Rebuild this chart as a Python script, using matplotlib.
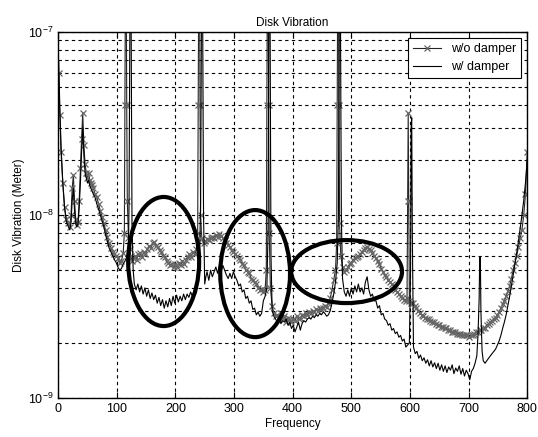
import matplotlib
matplotlib.use("Agg")
import matplotlib.pyplot as plt
from matplotlib.patches import Ellipse

plt.rcParams['font.family'] = ['Liberation Sans', 'DejaVu Sans']

# values are in units of 1e-9 meter
f_wo = [1, 3, 5, 8, 11, 14, 17, 20, 22, 24, 26, 28, 30, 32, 34, 36, 38, 40, 42, 44,
        46, 48, 50, 52, 54, 56, 58, 60, 63, 66, 69, 72, 75, 78, 81, 84, 87, 90, 93, 96,
        99, 102, 105, 108, 111, 113, 114, 115, 116, 117, 118, 120, 122, 124, 126, 128, 131, 134, 137, 140,
        143, 146, 149, 152, 155, 158, 161, 164, 167, 170, 173, 176, 179, 182, 185, 188, 191, 194, 197, 200,
        203, 206, 209, 212, 215, 218, 221, 224, 227, 230, 233, 236, 238, 239, 240, 241, 242, 243, 245, 248,
        251, 254, 257, 260, 263, 266, 269, 272, 275, 278, 281, 284, 287, 290, 293, 296, 299, 302, 305, 308,
        311, 314, 317, 320, 323, 326, 329, 332, 335, 338, 341, 344, 347, 350, 353, 355, 356, 357, 358, 359,
        360, 362, 365, 368, 371, 374, 377, 380, 383, 386, 389, 392, 395, 398, 401, 404, 407, 410, 413, 416,
        419, 422, 425, 428, 431, 434, 437, 440, 443, 446, 449, 452, 455, 458, 461, 464, 467, 470, 473, 475,
        476, 477, 478, 479, 480, 482, 485, 488, 491, 494, 497, 500, 503, 506, 509, 512, 515, 518, 521, 524,
        527, 530, 533, 536, 539, 542, 545, 548, 551, 554, 557, 560, 563, 566, 569, 572, 575, 578, 581, 584,
        587, 590, 593, 595, 596, 597, 598, 599, 602, 605, 608, 611, 614, 617, 620, 623, 626, 629, 632, 635,
        638, 641, 644, 647, 650, 653, 656, 659, 662, 665, 668, 671, 674, 677, 680, 683, 686, 689, 692, 695,
        698, 701, 704, 707, 710, 713, 716, 719, 722, 725, 728, 731, 734, 737, 740, 743, 746, 749, 752, 755,
        758, 761, 764, 767, 770, 773, 776, 779, 782, 785, 788, 791, 794, 797, 800]
v_wo = [60, 35, 22, 15, 11, 9.5, 9.0, 8.6, 10, 14, 16.5, 12, 9.5, 8.8, 9.2, 12, 18, 26, 36, 24,
        19, 17, 16, 17, 15.5, 15, 14.5, 14, 13, 12.5, 11.5, 10.5, 9.8, 9.0, 8.3, 7.6, 7.0, 6.6, 6.3, 6.1,
        6.0, 5.8, 5.5, 5.6, 6.2, 8, 40, 300, 300, 40, 12, 7.5, 6.5, 6.0, 5.6, 5.8, 6.0, 5.7, 6.1, 6.2,
        5.9, 6.3, 6.1, 6.5, 6.8, 6.6, 7.0, 7.1, 6.8, 6.7, 6.4, 6.3, 6.0, 5.9, 5.6, 5.5, 5.3, 5.4, 5.2, 5.4,
        5.2, 5.5, 5.3, 5.6, 5.4, 5.7, 5.9, 6.1, 5.9, 6.3, 6.1, 6.5, 8, 40, 300, 300, 40, 10, 7.5, 7.0,
        7.2, 7.4, 7.3, 7.5, 7.6, 7.5, 7.8, 7.6, 7.9, 7.7, 7.5, 7.3, 7.0, 6.9, 6.7, 6.4, 6.3, 6.1, 6.0, 5.8,
        5.7, 5.4, 5.3, 5.0, 4.9, 4.8, 4.5, 4.4, 4.3, 4.2, 4.0, 3.9, 3.95, 3.8, 3.9, 5, 40, 300, 300, 40,
        8, 4.0, 3.2, 2.9, 2.8, 2.85, 2.7, 2.9, 2.75, 2.8, 2.6, 2.75, 2.7, 2.6, 2.7, 2.65, 2.8, 2.7, 2.75, 2.85,
        2.8, 2.9, 2.85, 2.95, 2.9, 3.0, 2.95, 3.05, 3.0, 3.1, 3.05, 3.1, 3.2, 3.15, 3.3, 3.5, 3.9, 4.4, 5.0, 7,
        40, 300, 300, 40, 9, 6, 5.2, 4.9, 5.0, 5.2, 5.4, 5.5, 5.7, 5.8, 5.9, 6.0, 6.1, 6.3, 6.4, 6.6,
        6.7, 6.5, 6.4, 6.2, 6.0, 5.8, 5.6, 5.4, 5.1, 4.9, 4.7, 4.6, 4.4, 4.3, 4.2, 4.1, 3.9, 3.8, 3.7, 3.6,
        3.5, 3.45, 3.4, 3.5, 12, 36, 12, 3.4, 3.3, 3.3, 3.2, 3.1, 3.0, 2.9, 2.85, 2.8, 2.75, 2.7, 2.7, 2.65,
        2.6, 2.6, 2.55, 2.5, 2.5, 2.45, 2.45, 2.4, 2.4, 2.35, 2.35, 2.3, 2.3, 2.3, 2.25, 2.25, 2.25, 2.2, 2.2, 2.2,
        2.2, 2.15, 2.2, 2.2, 2.25, 2.3, 2.3, 2.35, 2.35, 2.4, 2.4, 2.5, 2.55, 2.6, 2.65, 2.7, 2.75, 2.85, 2.95, 3.1,
        3.25, 3.4, 3.6, 3.85, 4.1, 4.5, 5.0, 5.5, 6.0, 6.7, 7.5, 8.3, 10, 13, 22]

f_w = [1, 3, 5, 8, 11, 14, 17, 20, 22, 24, 26, 28, 30, 32, 34, 36, 38, 40, 42, 44,
       46, 48, 50, 52, 54, 56, 58, 60, 63, 66, 69, 72, 75, 78, 81, 84, 87, 90, 93, 96,
       99, 102, 105, 108, 111, 114, 117, 120, 121, 122, 123, 124, 125, 126, 128, 130, 133, 136, 139, 142,
       145, 148, 151, 154, 157, 160, 163, 166, 169, 172, 175, 178, 181, 184, 187, 190, 193, 196, 199, 202,
       205, 208, 211, 214, 217, 220, 223, 226, 229, 232, 235, 238, 241, 243, 244, 245, 246, 247, 248, 250,
       252, 254, 257, 260, 263, 266, 269, 272, 275, 278, 281, 284, 287, 290, 293, 296, 299, 302, 305, 308,
       311, 314, 317, 320, 323, 326, 329, 332, 335, 338, 341, 344, 347, 350, 353, 356, 358, 359, 360, 361,
       362, 363, 365, 368, 371, 374, 377, 380, 383, 386, 389, 392, 395, 398, 401, 404, 407, 410, 413, 416,
       419, 422, 425, 428, 431, 434, 437, 440, 443, 446, 449, 452, 455, 458, 461, 464, 467, 470, 473, 476,
       478, 479, 480, 481, 482, 483, 485, 488, 491, 494, 497, 500, 503, 506, 509, 512, 515, 518, 521, 524,
       527, 530, 533, 536, 539, 542, 545, 548, 551, 554, 557, 560, 563, 566, 569, 572, 575, 578, 581, 584,
       587, 590, 593, 596, 599, 601, 602, 603, 604, 606, 609, 612, 615, 618, 621, 624, 627, 630, 633, 636,
       639, 642, 645, 648, 651, 654, 657, 660, 663, 666, 669, 672, 675, 678, 681, 684, 687, 690, 693, 696,
       699, 702, 705, 708, 711, 714, 716, 718, 719, 720, 721, 723, 725, 728, 731, 734, 737, 740, 743, 746,
       749, 752, 755, 758, 761, 764, 767, 770, 773, 776, 779, 782, 785, 788, 791, 794, 797, 800]
v_w = [70, 38, 24, 15, 11, 9.2, 8.7, 8.3, 9, 12, 14, 10.5, 9, 8.6, 9, 11, 15, 22, 30, 21,
       17, 16, 15, 15.5, 14.5, 14, 13.5, 13, 12.5, 11.5, 10.8, 10, 9.3, 8.6, 7.8, 7.2, 6.6, 6.3, 6.0, 5.7,
       5.5, 5.2, 5.0, 5.1, 5.4, 5.6, 5.9, 6.5, 12, 60, 300, 300, 50, 9, 5.0, 4.2, 3.9, 4.2, 3.8, 4.1,
       3.7, 4.0, 3.6, 3.9, 3.5, 3.75, 3.45, 3.65, 3.3, 3.55, 3.2, 3.45, 3.1, 3.4, 3.15, 3.5, 3.2, 3.6, 3.3, 3.65,
       3.35, 3.6, 3.4, 3.7, 3.45, 3.7, 3.55, 3.8, 3.6, 3.85, 3.75, 4.2, 5, 12, 60, 300, 300, 50, 10, 4.2,
       4.6, 4.9, 4.4, 5.0, 4.6, 4.9, 5.2, 4.8, 5.3, 4.9, 5.3, 5.0, 4.7, 4.5, 4.8, 4.5, 4.9, 4.6, 4.4, 4.1,
       4.2, 3.8, 3.9, 3.5, 3.6, 3.3, 3.4, 3.05, 3.1, 2.85, 2.95, 2.8, 2.9, 3.4, 3.6, 4, 8, 50, 300, 300,
       40, 6, 3.0, 2.8, 2.7, 2.6, 2.7, 2.55, 2.65, 2.6, 2.7, 2.5, 2.6, 2.4, 2.5, 2.3, 2.45, 2.6, 2.35, 2.55,
       2.65, 2.6, 2.7, 2.75, 2.7, 2.8, 2.75, 2.85, 2.8, 2.9, 2.85, 2.95, 2.9, 2.8, 2.85, 3.0, 3.3, 3.7, 4.3, 5.5,
       10, 50, 300, 300, 50, 10, 4.5, 3.8, 3.6, 3.9, 3.6, 4.0, 3.7, 4.1, 3.8, 4.2, 3.8, 4.0, 3.7, 4.3,
       4.6, 3.9, 3.6, 3.7, 3.4, 3.4, 3.1, 3.2, 2.85, 2.9, 2.7, 2.65, 2.5, 2.55, 2.35, 2.4, 2.25, 2.3, 2.15, 2.2,
       2.05, 2.1, 1.9, 1.95, 2.0, 5, 30, 34, 8, 1.9, 1.75, 1.8, 1.65, 1.72, 1.6, 1.66, 1.55, 1.62, 1.5, 1.6,
       1.48, 1.56, 1.45, 1.55, 1.42, 1.52, 1.4, 1.5, 1.38, 1.48, 1.42, 1.52, 1.36, 1.46, 1.4, 1.5, 1.35, 1.45, 1.32, 1.42,
       1.36, 1.26, 1.4, 1.45, 1.55, 1.7, 2.2, 3.5, 5.9, 5.9, 3.0, 1.8, 1.6, 1.55, 1.6, 1.65, 1.7, 1.75, 1.8, 1.85,
       1.95, 2.05, 2.2, 2.4, 2.6, 2.85, 3.2, 3.6, 4.1, 4.7, 5.4, 6.2, 7.2, 8.5, 10, 12, 15, 20]

# highlighted regions: (center freq, center log10 value, width in Hz, height in decades)
ellipses = [(180, -8.254, 121, 0.705), (336, -8.32, 119, 0.694), (492, -8.309, 189, 0.344)]

fig = plt.figure(figsize=(5.38, 4.37), dpi=100)
ax = fig.add_axes([0.108, 0.089, 0.872, 0.838])

ax.plot(f_wo, [v * 1e-9 for v in v_wo], '-x', color='0.15', lw=0.8, ms=4,
        mec='0.4', mew=0.9, label='w/o damper')
ax.plot(f_w, [v * 1e-9 for v in v_w], '-', color='black', lw=0.8, label='w/ damper')

ax.set_yscale('log')
ax.set_xlim(0, 800)
ax.set_ylim(1e-9, 1e-7)
ax.set_xticks(range(0, 801, 100))

for cx, cy, w, h in ellipses:
    e = Ellipse((cx / 800, (cy + 9) / 2), w / 800, h / 2, transform=ax.transAxes,
                fill=False, edgecolor='black', lw=3, zorder=5)
    ax.add_patch(e)

ax.grid(True, which='both', color='black', linestyle=(0, (3, 3)), lw=0.8)
ax.tick_params(which='both', direction='in', top=True, right=True, labelsize=9)
ax.tick_params(which='major', length=4)
ax.tick_params(which='minor', length=2)
for s in ax.spines.values():
    s.set_linewidth(1.0)

ax.set_title('Disk Vibration', fontsize=8.5, pad=4)
ax.set_xlabel('Frequency', fontsize=8.5, labelpad=2)
ax.set_ylabel('Disk Vibration (Meter)', fontsize=8.5, labelpad=2)

leg = ax.legend(loc='upper right', fontsize=9, fancybox=False, framealpha=1,
                edgecolor='black', handlelength=2.2, borderaxespad=0.5)
leg.get_frame().set_linewidth(0.8)

fig.savefig('out.png', dpi=100)
